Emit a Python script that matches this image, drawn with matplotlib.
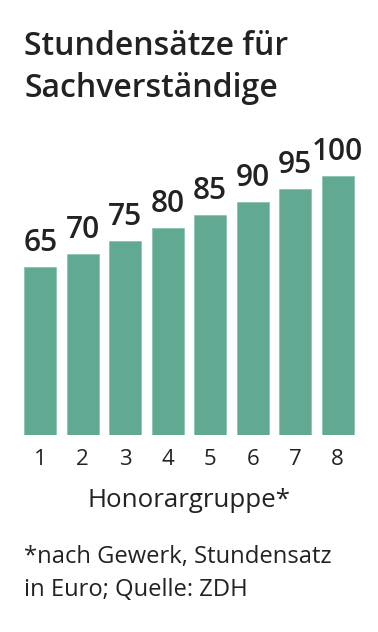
import matplotlib
matplotlib.use("Agg")
import matplotlib.pyplot as plt

groups = ["1", "2", "3", "4", "5", "6", "7", "8"]
rates = [65, 70, 75, 80, 85, 90, 95, 100]

title_lines = ["Stundensätze für", "Sachverständige"]
xlabel = "Honorargruppe*"
footnote_lines = ["*nach Gewerk, Stundensatz", "in Euro; Quelle: ZDH"]

W, H = 378, 632
DPI = 100
plt.rcParams["font.family"] = ["Open Sans", "DejaVu Sans"]
fig = plt.figure(figsize=(W / DPI, H / DPI), dpi=DPI)
fig.patch.set_facecolor("white")

def px(x, y):
    return x / W, 1 - y / H

bar_color = "#61a992"
text_color = "#222222"

ax = fig.add_axes([19 / W, (H - 435.3) / H, 340 / W, 259 / H])
xs = list(range(1, len(groups) + 1))
ax.bar(xs, rates, width=0.75, color=bar_color, edgecolor="#8cc4b0", linewidth=0.6)
ax.set_xlim(0.5, len(groups) + 0.5)
ax.set_ylim(0, 100)
for s in ax.spines.values():
    s.set_visible(False)
ax.set_yticks([])
ax.set_xticks(xs)
ax.set_xticklabels(groups, fontsize=16, color=text_color)
ax.tick_params(axis="x", length=0, pad=10)
for x, v in zip(xs, rates):
    ax.annotate(str(v), (x, v), xytext=(0, 11.5), textcoords="offset points",
                ha="center", va="baseline", fontsize=21.5, fontweight="semibold",
                color=text_color, annotation_clip=False)

xl = ax.text(0.5, -(506.7 - 435.3) / 259, xlabel, transform=ax.transAxes,
             fontsize=18.6, color=text_color, ha="center", va="baseline")

for i, line in enumerate(title_lines):
    fig.text(*px(24, 54.7 + 42.6 * i), line, fontsize=23, fontweight="semibold",
             color=text_color, ha="left", va="baseline")
for i, line in enumerate(footnote_lines):
    fig.text(*px(24, 562.7 + 33.3 * i), line, fontsize=17.1,
             color=text_color, ha="left", va="baseline")

fig.savefig("out.png", dpi=DPI, facecolor="white")
